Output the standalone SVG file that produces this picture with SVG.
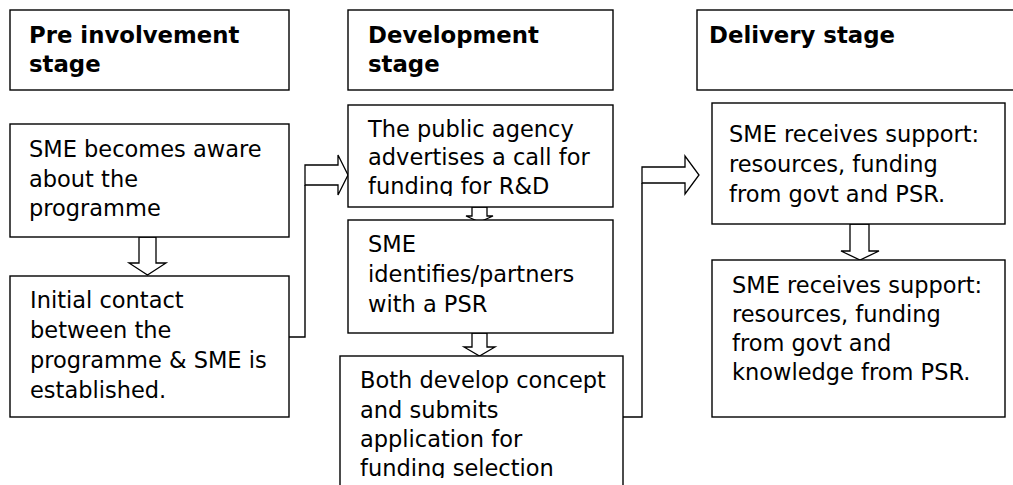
<svg xmlns="http://www.w3.org/2000/svg" width="1013" height="485" viewBox="0 0 1013 485">
  <style>
    .box { fill: #ffffff; stroke: #000000; stroke-width: 1.4; }
    .arrow { fill: #ffffff; stroke: #000000; stroke-width: 1.3; stroke-linejoin: miter; }
    .line { fill: none; stroke: #000000; stroke-width: 1.4; }
    text { font-family: "DejaVu Sans", Verdana, sans-serif; font-size: 22.5px; fill: #000000; }
    .head { font-weight: bold; font-size: 22.8px; }
  </style>
  <defs>
    <clipPath id="clip-agency"><rect x="348" y="105" width="265" height="91"/></clipPath>
    <clipPath id="clip-concept"><rect x="340" y="356" width="283" height="122"/></clipPath>
  </defs>

  <rect width="1013" height="485" fill="#ffffff"/>

  <!-- connectors -->
  <g id="connectors">
    <!-- block arrow: aware -> initial contact -->
    <polygon class="arrow" points="139,237 156,237 156,263 166,263 147.5,275 129,263 139,263"/>
    <!-- elbow from initial contact to the development column -->
    <polyline class="line" points="289,337 305,337 305,185"/>
    <polygon class="arrow" points="305,165 338,165 338,155 348,175 338,195 338,185 305,185"/>
    <!-- block arrow: call for funding -> partner search -->
    <polygon class="arrow" points="472,207 487,207 487,216 493,216 479.5,222 466,216 472,216"/>
    <!-- block arrow: partner search -> concept -->
    <polygon class="arrow" points="472,333 487,333 487,347 495,347 479.5,356 464,347 472,347"/>
    <!-- elbow from concept to the delivery column -->
    <polyline class="line" points="623,417 642,417 642,183"/>
    <polygon class="arrow" points="642,167 685,167 685,156 699,175 685,194 685,183 642,183"/>
    <!-- block arrow: support -> support with knowledge -->
    <polygon class="arrow" points="850,224 869,224 869,251 879,251 860,260 841,251 850,251"/>
  </g>

  <!-- pre involvement column -->
  <g id="pre-stage">
    <rect class="box" x="10" y="10" width="279" height="80"/>
    <text class="head" x="29" y="43">Pre involvement</text>
    <text class="head" x="29" y="72">stage</text>
  </g>
  <g id="aware">
    <rect class="box" x="10" y="124" width="279" height="113"/>
    <text x="29" y="157">SME becomes aware</text>
    <text x="29" y="187">about the</text>
    <text x="29" y="216">programme</text>
  </g>
  <g id="initial-contact">
    <rect class="box" x="10" y="276" width="279" height="141"/>
    <text x="30" y="308">Initial contact</text>
    <text x="30" y="338">between the</text>
    <text x="30" y="368">programme &amp; SME is</text>
    <text x="30" y="398">established.</text>
  </g>

  <!-- development column -->
  <g id="development-stage">
    <rect class="box" x="348" y="10" width="265" height="80"/>
    <text class="head" x="368" y="43">Development</text>
    <text class="head" x="368" y="72">stage</text>
  </g>
  <g id="call-for-funding">
    <rect class="box" x="348" y="105" width="265" height="102"/>
    <g clip-path="url(#clip-agency)">
      <text x="368" y="137">The public agency</text>
      <text x="368" y="165">advertises a call for</text>
      <text x="368" y="194">funding for R&amp;D</text>
    </g>
  </g>
  <g id="partner-search">
    <rect class="box" x="348" y="220" width="265" height="113"/>
    <text x="368" y="252">SME</text>
    <text x="368" y="282">identifies/partners</text>
    <text x="368" y="312">with a PSR</text>
  </g>
  <g id="concept">
    <rect class="box" x="340" y="356" width="283" height="140"/>
    <g clip-path="url(#clip-concept)">
      <text x="360" y="388">Both develop concept</text>
      <text x="360" y="418">and submits</text>
      <text x="360" y="447">application for</text>
      <text x="360" y="476">funding selection</text>
    </g>
  </g>

  <!-- delivery column -->
  <g id="delivery-stage">
    <rect class="box" x="697" y="10" width="330" height="80"/>
    <text class="head" x="709" y="43">Delivery stage</text>
  </g>
  <g id="support">
    <rect class="box" x="712" y="103" width="293" height="121"/>
    <text x="729" y="142">SME receives support:</text>
    <text x="729" y="172">resources, funding</text>
    <text x="729" y="202">from govt and PSR.</text>
  </g>
  <g id="support-knowledge">
    <rect class="box" x="712" y="260" width="293" height="157"/>
    <text x="732" y="293">SME receives support:</text>
    <text x="732" y="322">resources, funding</text>
    <text x="732" y="351">from govt and</text>
    <text x="732" y="380">knowledge from PSR.</text>
  </g>
</svg>
